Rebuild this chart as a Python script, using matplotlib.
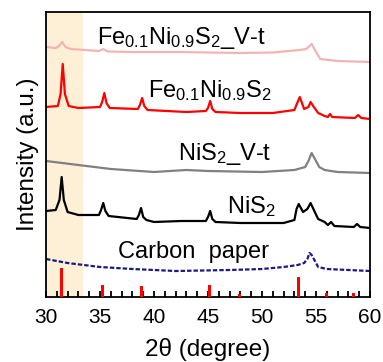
import matplotlib
matplotlib.use("Agg")
import matplotlib.pyplot as plt
from matplotlib.ticker import MultipleLocator

plt.rcParams["font.family"] = ["Liberation Sans", "DejaVu Sans"]
plt.rcParams["mathtext.fontset"] = "custom"
plt.rcParams["mathtext.rm"] = "Liberation Sans"
plt.rcParams["mathtext.it"] = "Liberation Sans:italic"
plt.rcParams["mathtext.bf"] = "Liberation Sans:bold"

# XRD patterns (2theta in degrees, intensity in offset arbitrary units)
fe_vt_x = [30.0, 30.9, 31.2, 31.5, 31.8, 32.3, 34.9, 35.3, 35.7, 38.0, 40.0,
           42.4, 45.0, 48.0, 51.0, 52.5, 53.5, 54.1, 54.4, 54.6, 54.9, 55.4,
           57.0, 60.0]
fe_vt_y = [250, 249, 251, 255, 250, 248, 246, 248, 245.5, 245, 245,
           245, 244.5, 244, 244.5, 246, 247, 248, 251, 253, 247, 238,
           236, 235]

fe_x = [30.0, 31.1, 31.35, 31.55, 31.75, 32.1, 33.0, 35.0, 35.2, 35.4, 35.6,
        35.9, 38.5, 38.7, 38.9, 39.1, 39.4, 43.0, 44.8, 45.0, 45.2, 45.4,
        45.7, 48.0, 51.0, 53.0, 53.3, 53.5, 53.9, 54.3, 54.5, 54.8, 55.2,
        55.8, 56.1, 56.3, 56.5, 58.6, 58.9, 59.2, 60.0]
fe_y = [190, 191, 203, 233, 203, 191, 189, 190, 195, 204, 194,
        189, 188, 192, 199, 191, 187, 185, 186, 189, 196, 188,
        185, 184, 184, 187, 195, 200, 188, 190, 195, 190, 184,
        181, 180, 183, 180, 179, 182, 179, 178]

nis2_vt_x = [30.0, 33.0, 36.0, 40.0, 43.0, 45.0, 50.0, 53.0, 54.0, 54.3,
             54.6, 54.9, 55.3, 55.8, 57.0, 60.0]
nis2_vt_y = [136, 132, 128, 125, 127, 126, 125, 127, 130, 136,
             144, 138, 130, 127, 125, 124]

nis2_x = [30.0, 30.9, 31.25, 31.45, 31.65, 32.0, 33.0, 34.9, 35.1, 35.3, 35.5,
          35.8, 38.4, 38.6, 38.8, 39.0, 39.3, 40.0, 42.5, 44.8, 45.0, 45.2,
          45.4, 45.7, 48.0, 52.0, 53.0, 53.2, 53.4, 53.8, 54.2, 54.5, 54.8,
          55.2, 55.8, 56.1, 56.4, 56.7, 58.5, 58.8, 59.1, 60.0]
nis2_y = [86, 87, 97, 120, 97, 85, 82, 82, 87, 94, 86,
          81, 78, 82, 89, 80, 77, 75, 76, 76, 80, 86,
          78, 75, 74, 74, 77, 88, 93, 85, 88, 94, 87,
          78, 75, 72, 75, 71, 70, 73, 70, 69]

carbon_x = [30.0, 32.0, 35.0, 38.0, 42.0, 47.0, 50.0, 52.0, 53.3, 53.9,
            54.2, 54.4, 54.6, 54.8, 55.2, 56.0, 58.0, 60.0]
carbon_y = [38, 34, 30, 28, 26, 27, 28, 30, 32, 34,
            38, 44, 42, 38, 30, 28, 27, 26]

# NiS2 reference pattern (stick positions and relative heights)
ref_pos = [31.45, 35.25, 38.85, 45.1, 47.95, 53.4, 55.95, 58.5]
ref_int = [29, 12, 11, 12, 3, 20, 4, 4]

labels = [r"Fe$_{0.1}$Ni$_{0.9}$S$_2$_V-t", r"Fe$_{0.1}$Ni$_{0.9}$S$_2$",
          r"NiS$_2$_V-t", r"NiS$_2$", "Carbon  paper"]
label_x = [30 + (97 - 46) / 10.8, 30 + (148 - 46) / 10.8,
           30 + (178 - 46) / 10.8, 30 + (227 - 46) / 10.8,
           30 + (118 - 46) / 10.8]
label_y = [253, 200, 137, 84, 39]

fig = plt.figure(figsize=(3.83, 3.62), dpi=100)
ax = fig.add_axes([46 / 383, 65 / 362, 324 / 383, 285 / 362])

ax.axvspan(30, 33.4, color="#fdf0d6", zorder=0, lw=0)

lw = 1.6
ax.plot(fe_vt_x, fe_vt_y, color="#f5b4b4", lw=lw)
ax.plot(fe_x, fe_y, color="#ff0000", lw=lw)
ax.plot(nis2_vt_x, nis2_vt_y, color="#808080", lw=lw)
ax.plot(nis2_x, nis2_y, color="black", lw=lw)
ax.plot(carbon_x, carbon_y, color="#1a1a80", lw=lw, linestyle=(0, (2, 0.9)))
ax.bar(ref_pos, ref_int, width=0.28, color="#ff0000", bottom=0, zorder=3)

for txt, x, y in zip(labels, label_x, label_y):
    ax.text(x, y, txt, fontsize=17, ha="left", va="baseline", color="black")

ax.set_xlim(30, 60)
ax.set_ylim(0, 285)
ax.xaxis.set_major_locator(MultipleLocator(5))
ax.xaxis.set_minor_locator(MultipleLocator(1))
ax.tick_params(axis="x", which="major", direction="in", length=4, width=1.3,
               labelsize=15, pad=8)
ax.tick_params(axis="x", which="minor", direction="in", length=4, width=1.3)
ax.set_yticks([])
for s in ax.spines.values():
    s.set_linewidth(1.3)

ax.set_xlabel("2θ (degree)", fontsize=17.5, labelpad=8)
ax.set_ylabel("Intensity (a.u.)", fontsize=17.5, labelpad=5)

fig.savefig("out.png", dpi=100)
